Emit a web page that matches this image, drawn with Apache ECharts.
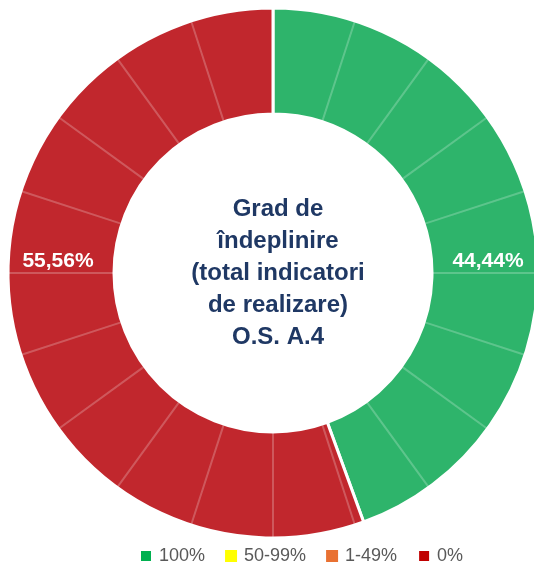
<!DOCTYPE html>
<html>
<head>
<meta charset="utf-8">
<script src="https://cdn.jsdelivr.net/npm/echarts@6/dist/echarts.min.js"></script>
<style>
  html, body { margin: 0; padding: 0; background: #fff; }
  #chart { width: 534px; height: 562px; }
</style>
</head>
<body>
<div id="chart"></div>
<script>
// indicators grouped by degree of fulfilment
const statusNames = ["100%", "0%"];
const indicatorCounts = [4, 5];
const statusColors = ["#2eb46b", "#c1272d"];

// legend classes and their colours
const legendNames = ["100%", "50-99%", "1-49%", "0%"];
const legendColors = ["#00b050", "#ffff00", "#e97132", "#c00000"];

// decorative ring divisions (20 equal ticks)
const ringDivisions = [1, 1, 1, 1, 1, 1, 1, 1, 1, 1, 1, 1, 1, 1, 1, 1, 1, 1, 1, 1];

const centerTitle = "Grad de\nîndeplinire\n(total indicatori\nde realizare)\nO.S. A.4";

const center = [273, 273];
const font = "'Liberation Sans', Arial, sans-serif";

const chart = echarts.init(document.getElementById("chart"), null, { renderer: "canvas" });

const option = {
  animation: false,
  title: {
    text: centerTitle,
    left: 273,
    top: 188,
    textAlign: "center",
    textStyle: {
      fontFamily: font,
      fontSize: 24,
      fontWeight: "bold",
      color: "#1f3864",
      lineHeight: 32
    }
  },
  legend: {
    left: 134,
    top: 542,
    itemWidth: 12,
    itemHeight: 12,
    itemGap: 20,
    icon: "rect",
    textStyle: {
      fontFamily: font,
      fontSize: 18,
      color: "#595959",
      padding: [0, 0, 0, 2]
    },
    data: legendNames.map((n, i) => ({ name: n, itemStyle: { color: legendColors[i] } }))
  },
  series: [
    {
      // hidden carrier for legend classes with no indicators
      type: "pie",
      radius: [0, 0],
      center: center,
      silent: true,
      stillShowZeroSum: false,
      label: { show: false },
      labelLine: { show: false },
      data: legendNames.filter(n => !statusNames.includes(n)).map(n => ({
        name: n,
        value: 0,
        itemStyle: { color: legendColors[legendNames.indexOf(n)] }
      }))
    },
    {
      type: "pie",
      radius: [159, 265],
      center: center,
      startAngle: 90,
      silent: true,
      label: { show: false },
      labelLine: { show: false },
      itemStyle: { borderColor: "#ffffff", borderWidth: 3 },
      data: statusNames.map((n, i) => ({
        name: n,
        value: indicatorCounts[i],
        itemStyle: { color: statusColors[i] }
      }))
    },
    {
      // light separators over the ring
      type: "pie",
      radius: [155, 270],
      center: center,
      startAngle: 90,
      silent: true,
      label: { show: false },
      labelLine: { show: false },
      itemStyle: { color: "rgba(0,0,0,0)", borderColor: "rgba(255,255,255,0.12)", borderWidth: 2 },
      data: ringDivisions.map((v, i) => ({ name: "d" + i, value: v }))
    },
    {
      // value labels
      type: "pie",
      radius: [159, 265],
      center: center,
      startAngle: 80,
      silent: true,
      itemStyle: { color: "rgba(0,0,0,0)" },
      label: {
        show: true,
        position: "inside",
        fontFamily: font,
        fontSize: 21,
        fontWeight: "bold",
        color: "#ffffff",
        formatter: p => p.percent.toFixed(2).replace(".", ",") + "%"
      },
      labelLayout: { dy: -12 },
      labelLine: { show: false },
      data: statusNames.map((n, i) => ({ name: "lbl" + n, value: indicatorCounts[i] }))
    }
  ]
};

chart.setOption(option);
</script>
</body>
</html>
